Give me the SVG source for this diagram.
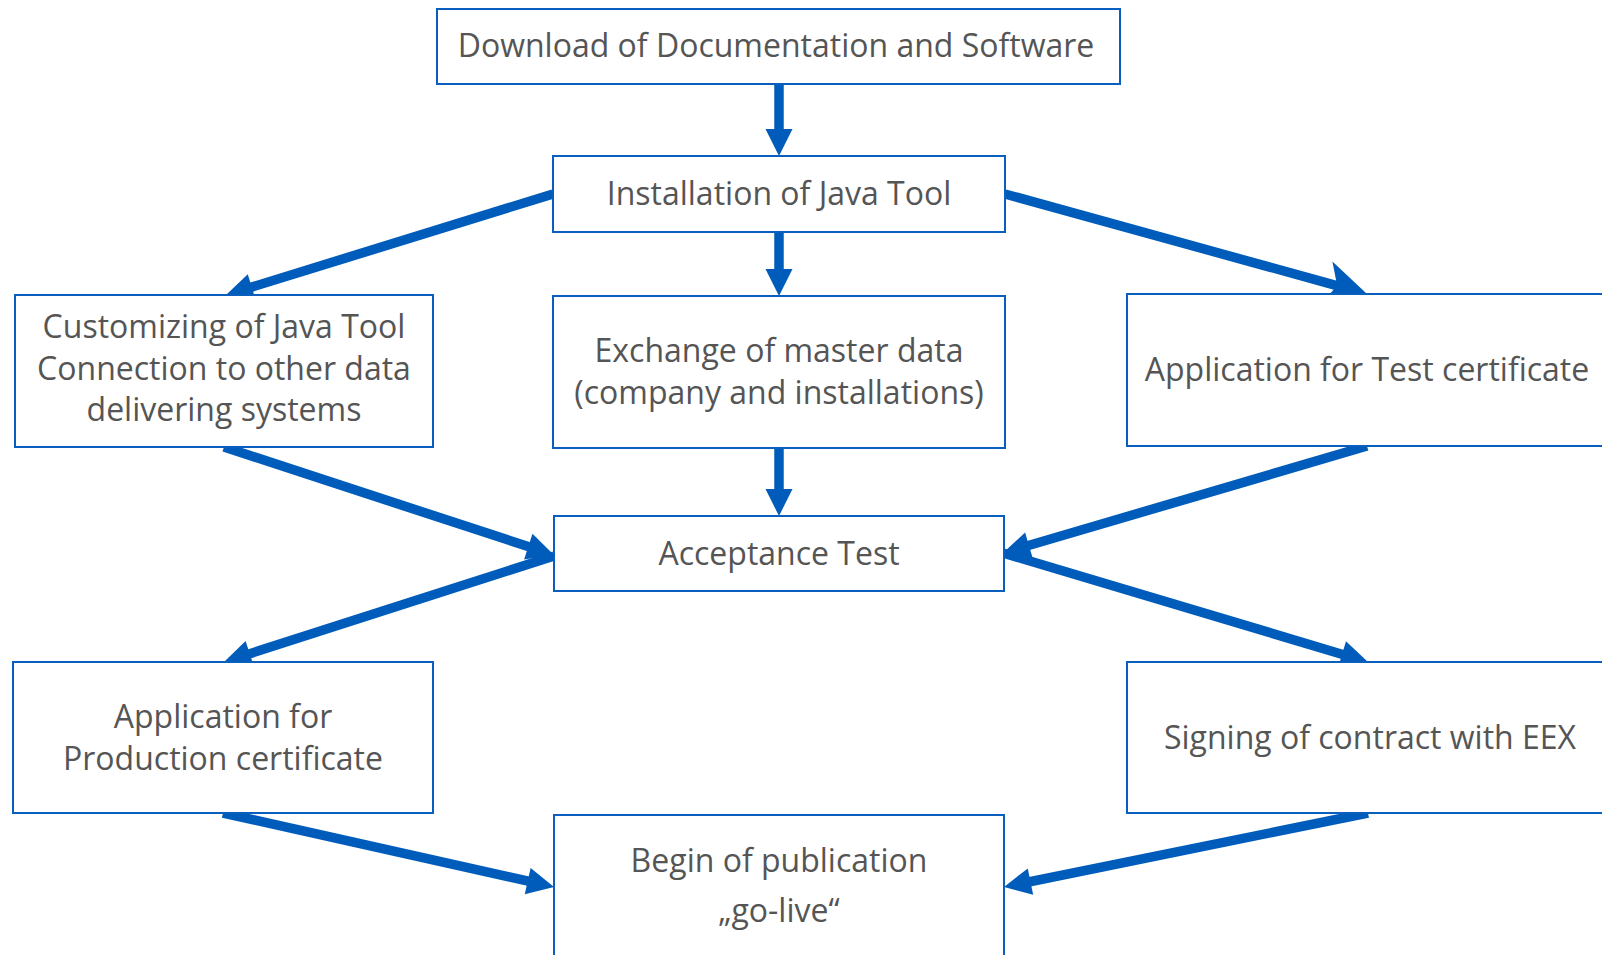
<svg xmlns="http://www.w3.org/2000/svg" width="1602" height="955" viewBox="0 0 1602 955">
<style>
.box{fill:#fff;stroke:#0a5fbe;stroke-width:2}
.t{font-family:"Open Sans","Noto Sans","DejaVu Sans",sans-serif;font-size:32px;fill:#555;text-anchor:middle}
.c{stroke:#005cbb;stroke-width:9.5;fill:none}
.a{marker-end:url(#ah)}
.b{marker-end:url(#ahb)}
</style>
<defs>
<marker id="ah" markerUnits="userSpaceOnUse" markerWidth="30" markerHeight="30" viewBox="0 -15 30 30" refX="12" refY="0" orient="auto" overflow="visible">
<path d="M0,-13.5 L27,0 L0,13.5 Z" fill="#005cbb"/>
</marker>
<marker id="ahb" markerUnits="userSpaceOnUse" markerWidth="46" markerHeight="46" viewBox="0 -23 46 46" refX="18" refY="0" orient="auto" overflow="visible">
<path d="M0,-22 L42,0 L0,22 L11,0 Z" fill="#005cbb"/>
</marker>
</defs>
<rect width="1602" height="955" fill="#fff"/>
<g id="connectors">
<line class="c a" x1="779" y1="84" x2="779" y2="141"/>
<line class="c a" x1="779" y1="232" x2="779" y2="281"/>
<line class="c a" x1="779" y1="448" x2="779" y2="501"/>
<line class="c a" x1="553" y1="194" x2="240.3" y2="290.6"/>
<line class="c b" x1="1005" y1="194" x2="1343.9" y2="287.6"/>
<line class="c a" x1="224" y1="447" x2="539.7" y2="550.3"/>
<line class="c a" x1="1367" y1="446" x2="1017.4" y2="548.8"/>
<line class="c a" x1="554" y1="556" x2="238.3" y2="657.4"/>
<line class="c a" x1="1003" y1="553" x2="1353.6" y2="657.7"/>
<line class="c a" x1="223" y1="813" x2="539.4" y2="883.7"/>
<line class="c a" x1="1368" y1="813" x2="1018.7" y2="884"/>
</g>
<g id="download">
<rect class="box" x="437" y="9" width="683" height="75"/>
<text class="t" x="776" y="57">Download of Documentation and Software</text>
</g>
<g id="installation">
<rect class="box" x="553" y="156" width="452" height="76"/>
<text class="t" x="779" y="205">Installation of Java Tool</text>
</g>
<g id="customizing">
<rect class="box" x="15" y="295" width="418" height="152"/>
<text class="t" x="224" y="338">Customizing of Java Tool</text>
<text class="t" x="224" y="380">Connection to other data</text>
<text class="t" x="224" y="421">delivering systems</text>
</g>
<g id="exchange">
<rect class="box" x="553" y="296" width="452" height="152"/>
<text class="t" x="779" y="362">Exchange of master data</text>
<text class="t" x="779" y="404">(company and installations)</text>
</g>
<g id="apptest">
<rect class="box" x="1127" y="294" width="500" height="152"/>
<text class="t" x="1367" y="381">Application for Test certificate</text>
</g>
<g id="acceptance">
<rect class="box" x="554" y="516" width="450" height="75"/>
<text class="t" x="779" y="565">Acceptance Test</text>
</g>
<g id="appprod">
<rect class="box" x="13" y="662" width="420" height="151"/>
<text class="t" x="223" y="728">Application for</text>
<text class="t" x="223" y="770">Production certificate</text>
</g>
<g id="signing">
<rect class="box" x="1127" y="662" width="500" height="151"/>
<text class="t" x="1370" y="749">Signing of contract with EEX</text>
</g>
<g id="begin">
<rect class="box" x="554" y="815" width="450" height="160"/>
<text class="t" x="779" y="872">Begin of publication</text>
<text class="t" x="779" y="922">„go-live“</text>
</g>
</svg>
